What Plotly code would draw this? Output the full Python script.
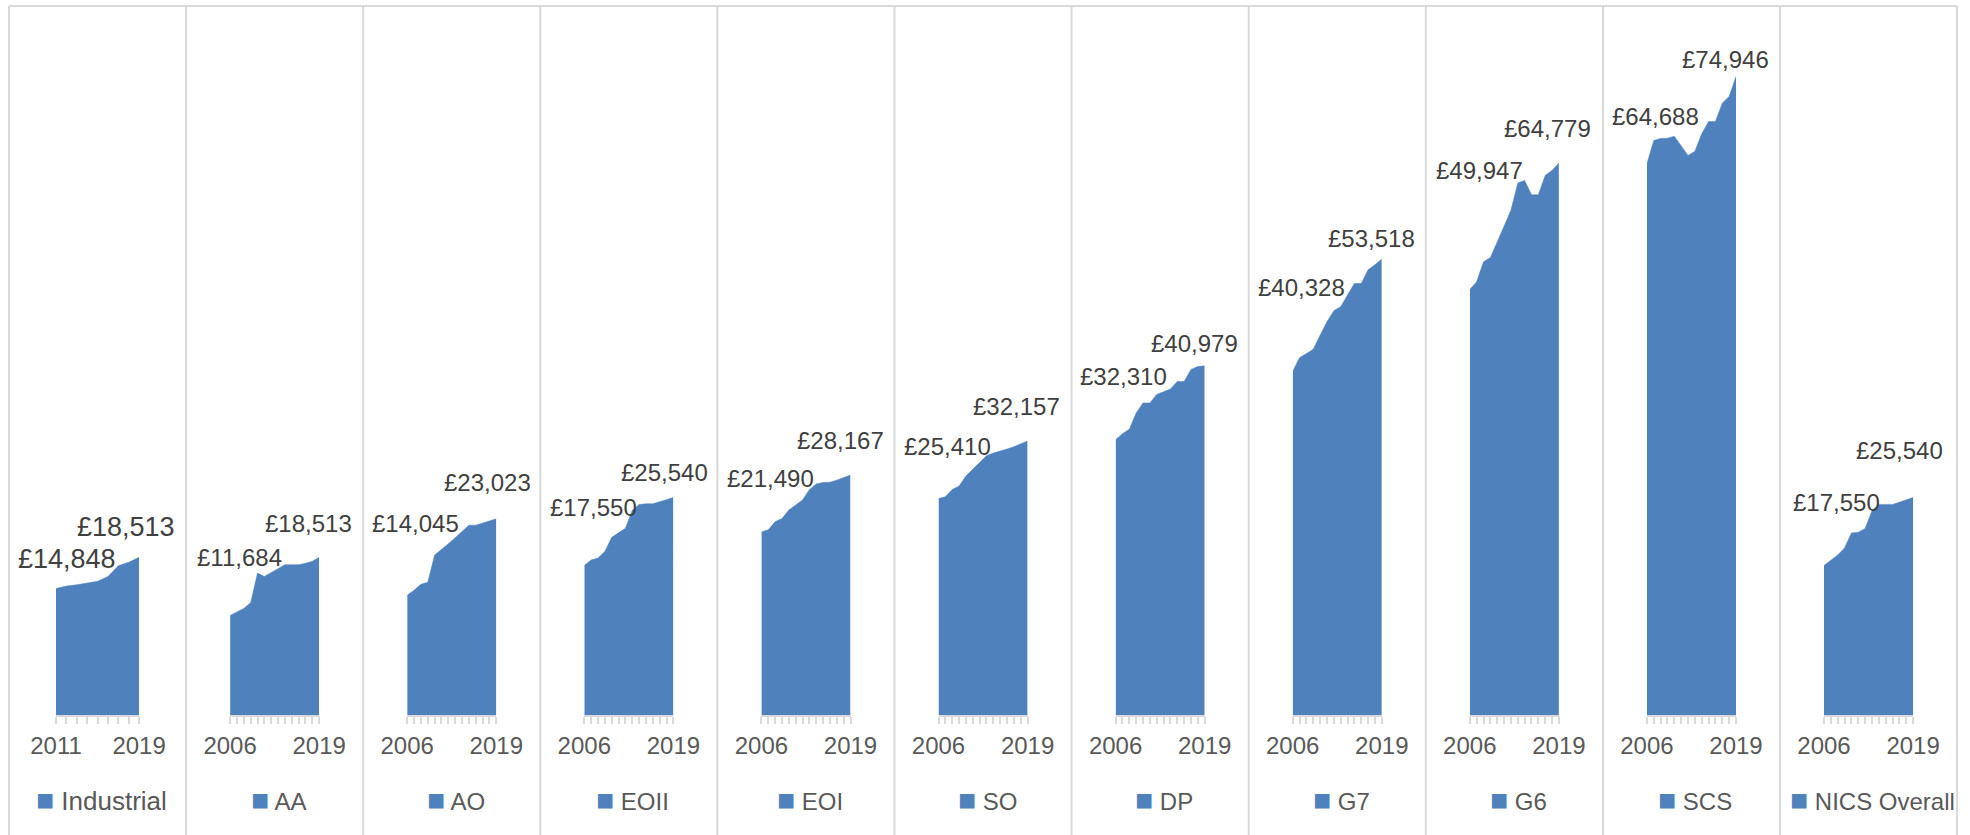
import plotly.graph_objects as go

# Salary by grade, first year to 2019
grades = ["Industrial", "AA", "AO", "EOII", "EOI", "SO", "DP", "G7", "G6", "SCS", "NICS Overall"]

years_industrial = list(range(2011, 2020))
years = list(range(2006, 2020))

industrial = [14848, 15127, 15286, 15485, 15685, 16242, 17517, 17916, 18513]
aa = [11684, 12118, 12513, 13184, 16657, 16263, 16736, 17131, 17644, 17644, 17644, 17802, 18039, 18513]
ao = [14045, 14630, 15333, 15567, 18768, 19392, 20095, 20797, 21578, 22280, 22280, 22554, 22788, 23023]
eoii = [17550, 18186, 18425, 19180, 20849, 21366, 21923, 24029, 24705, 24785, 24785, 25023, 25262, 25540]
eoi = [21490, 21730, 22689, 23049, 24049, 24648, 25248, 26447, 27127, 27287, 27327, 27567, 27887, 28167]
so = [25410, 25607, 26475, 26870, 28054, 28843, 29632, 30421, 30737, 30935, 31211, 31487, 31803, 32157]
dp = [32310, 33022, 33525, 35451, 36624, 36624, 37629, 37922, 38257, 39136, 39136, 40560, 40900, 40979]
g7 = [40328, 41942, 42415, 42926, 44580, 46155, 47454, 47927, 49305, 50644, 50644, 52258, 52848, 53518]
g6 = [49947, 50845, 53187, 53694, 55529, 57402, 59236, 62437, 62749, 61071, 61071, 63335, 63920, 64779]
scs = [64688, 67429, 67664, 67703, 67938, 66841, 65667, 66176, 68211, 69660, 69660, 71813, 72596, 74946]
nics_overall = [17550, 18165, 18779, 19598, 21360, 21442, 21893, 23982, 24720, 24720, 24720, 24966, 25212, 25540]

series = [industrial, aa, ao, eoii, eoi, so, dp, g7, g6, scs, nics_overall]
series_years = [years_industrial] + [years] * 10

# label offsets in px (first dx, first dy, last dx, last dy), dy measured downwards
label_offsets = [
    (11, -30, -13, -30),
    (9, -58, -11, -34),
    (8, -72, -9, -36),
    (9, -58, -9, -25),
    (9, -53, -10, -35),
    (9, -52, -11, -35),
    (8, -63, -10, -22),
    (9, -84, -10, -21),
    (10, -119, -11, -35),
    (9, -47, -10, -17),
    (12, -63, -14, -47),
]

W, H = 1970, 835
blue = "#4F81BD"
grid = "#D9D9D9"
font_family = "Liberation Sans, Arial, sans-serif"

panel_left = 9
panel_w = 177.1
base_px = 715  # pixel row of zero
y_max = base_px / 0.00852

fig = go.Figure()
annotations = []
shapes = []

for i, (name, vals, yrs) in enumerate(zip(grades, series, series_years)):
    ax = "" if i == 0 else str(i + 1)
    left = panel_left + i * panel_w
    pad = 47 if i == 0 else 44
    dom = [(left + pad) / W, (left + panel_w - pad) / W]

    fig.add_trace(go.Scatter(
        x=yrs, y=vals, mode="lines", fill="tozeroy",
        fillcolor=blue, line=dict(color=blue, width=0.5),
        xaxis="x" + ax, yaxis="y", showlegend=False,
        hoverinfo="x+y",
    ))

    ticktext = [str(y) if y in (yrs[0], yrs[-1]) else "" for y in yrs]
    fig.update_layout(**{
        "xaxis" + ax: dict(
            domain=dom, anchor="y", range=[yrs[0], yrs[-1]],
            tickmode="array", tickvals=yrs, ticktext=ticktext,
            showgrid=False, zeroline=False, automargin=False,
            showline=True, linecolor=grid, linewidth=1.5,
            ticks="outside", ticklen=7, tickwidth=1.5, tickcolor=grid,
            ticklabelstandoff=1,
            tickfont=dict(family=font_family, size=24, color="#595959"),
        )
    })

    lab_size = 27 if i == 0 else 24
    fdx, fdy, ldx, ldy = label_offsets[i]
    for xv, yv, dx, dy in ((yrs[0], vals[0], fdx, fdy), (yrs[-1], vals[-1], ldx, ldy)):
        annotations.append(dict(
            x=xv, y=yv, xref="x" + ax, yref="y",
            text="£{:,.0f}".format(yv), showarrow=False,
            xanchor="center", yanchor="middle",
            xshift=dx, yshift=-dy,
            font=dict(family=font_family, size=lab_size, color="#404040"),
        ))

    # legend entry under each panel
    annotations.append(dict(
        x=(left + panel_w / 2 + 4) / W, y=(H - 799) / H, xref="paper", yref="paper",
        text="<span style='color:%s;font-size:30px'>■</span> %s" % (blue, name), showarrow=False,
        xanchor="center", yanchor="middle",
        font=dict(family=font_family, size=26 if i == 0 else 24, color="#595959"),
    ))

    # panel border
    shapes.append(dict(type="line", xref="paper", yref="paper",
                       x0=left / W, x1=left / W, y0=0, y1=(H - 6) / H,
                       line=dict(color=grid, width=2)))

right = panel_left + len(grades) * panel_w
shapes.append(dict(type="line", xref="paper", yref="paper",
                   x0=right / W, x1=right / W, y0=0, y1=(H - 6) / H,
                   line=dict(color=grid, width=2)))
shapes.append(dict(type="line", xref="paper", yref="paper",
                   x0=panel_left / W, x1=right / W, y0=(H - 6) / H, y1=(H - 6) / H,
                   line=dict(color=grid, width=2)))

fig.update_layout(
    width=W, height=H,
    margin=dict(l=0, r=0, t=0, b=0, pad=0, autoexpand=False),
    plot_bgcolor="white", paper_bgcolor="white",
    yaxis=dict(domain=[(H - base_px) / H, 1], range=[0, y_max], visible=False,
               fixedrange=True, automargin=False),
    annotations=annotations,
    shapes=shapes,
    showlegend=False,
)

fig.write_html("out.html", config={"displayModeBar": False},
               post_script="document.body.style.margin='0';")
